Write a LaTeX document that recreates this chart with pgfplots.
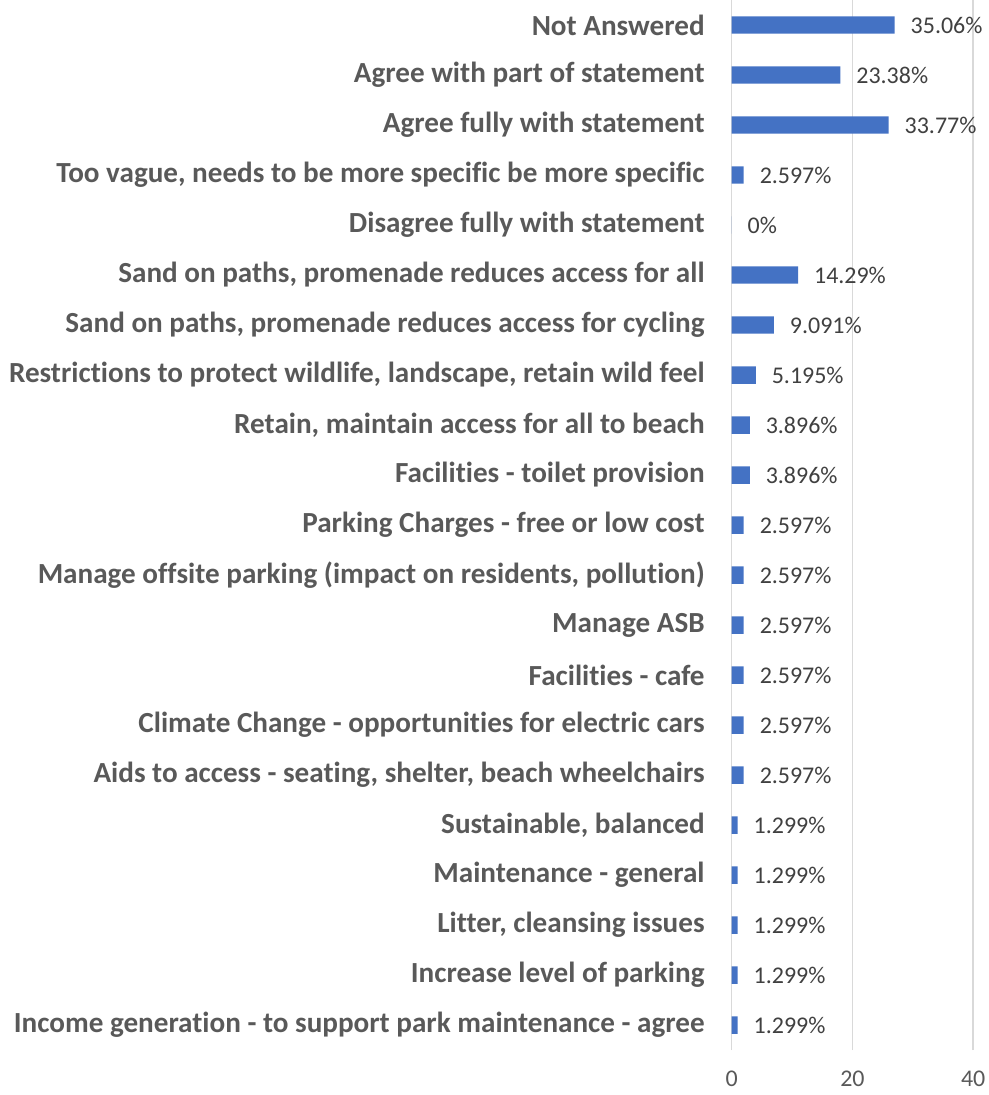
\documentclass[border=0pt]{standalone}
\usepackage{fontspec}
\setmainfont{Carlito}[Ligatures=NoCommon]
\usepackage{pgfplots}
\pgfplotsset{compat=1.18}
\usepackage{pgfplotstable}
\newcommand{\K}{\kern0pt{}}
\definecolor{barblue}{HTML}{4472C4}
\definecolor{labgray}{HTML}{595959}
\definecolor{valgray}{HTML}{404040}
\definecolor{gridgray}{HTML}{D9D9D9}
% v = number of responses (of 77), lab = percentage shown
\pgfplotstableread{
i v lab
20 27 35.06
19 18 23.38
18 26 33.77
17 2 2.597
16 0 0
15 11 14.29
14 7 9.091
13 4 5.195
12 3 3.896
11 3 3.896
10 2 2.597
9 2 2.597
8 2 2.597
7 2 2.597
6 2 2.597
5 2 2.597
4 1 1.299
3 1 1.299
2 1 1.299
1 1 1.299
0 1 1.299
}\datatable
\begin{document}
\begin{tikzpicture}
\path[use as bounding box] (-366.5pt,-22.5pt) rectangle (128.5pt,526pt);
\begin{axis}[
  at={(0,0)}, anchor=south west,
  scale only axis, width=121pt, height=526pt,
  xmin=0, xmax=40, ymin=-0.5, ymax=20.5,
  xtick={0,20,40},
  ytick={0,...,20},
  yticklabels={
    {Income generat\K ion - to support park maintenance - agree},
    {Increase level of parking},
    {Litter, cleansing issues},
    {Maintenance - general},
    {Sustainable, balanced},
    {Aids to access - seat\K ing, shelter, beach wheelchairs},
    {Climate Change - opportunit\K ies for electric cars},
    {Facilit\K ies - cafe},
    {Manage ASB},
    {Manage of\K f\K site parking (impact on residents, pollut\K ion)},
    {Parking Charges - free or low cost},
    {Facilit\K ies - toilet provision},
    {Retain, maintain access for all to beach},
    {Restrict\K ions to protect wildlife, landscape, retain wild feel},
    {Sand on paths, promenade reduces access for cycling},
    {Sand on paths, promenade reduces access for all},
    {Disagree fully with statement},
    {Too vague, needs to be more specif\K ic be more specif\K ic},
    {Agree fully with statement},
    {Agree with part of statement},
    {Not Answered}},
  axis line style={draw=none},
  major tick length=0pt,
  xmajorgrids,
  grid style={draw=gridgray, line width=0.8pt},
  /pgf/number format/assume math mode=true,
  xticklabel style={font=\fontsize{12}{14}\selectfont, text=labgray, yshift=-7pt},
  yticklabel style={font=\fontsize{14.6}{17}\selectfont\bfseries, text=labgray, anchor=east, xshift=-10pt},
]
\addplot[xbar, bar width=8.75pt, fill=barblue, draw=none,
  point meta=explicit symbolic,
  nodes near coords={\pgfplotspointmeta\%},
  nodes near coords style={font=\fontsize{12}{14}\selectfont, text=valgray, anchor=west, xshift=4.5pt},
] table[x=v, y=i, meta=lab] {\datatable};
\end{axis}
\end{tikzpicture}
\end{document}
